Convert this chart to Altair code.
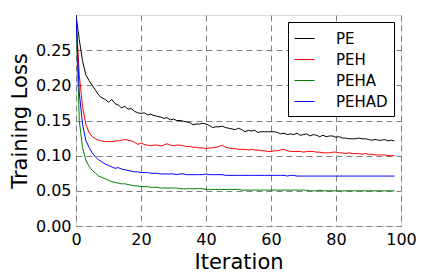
import altair as alt
import pandas as pd

iterations = list(range(99))

pe = [0.300, 0.265, 0.235, 0.215, 0.207, 0.200, 0.193, 0.186, 0.182, 0.180,
      0.176, 0.180, 0.174, 0.172, 0.168, 0.170, 0.166, 0.167, 0.163, 0.161,
      0.160, 0.161, 0.158, 0.159, 0.157, 0.156, 0.155, 0.153, 0.154, 0.151,
      0.152, 0.150, 0.150, 0.149, 0.148, 0.147, 0.144, 0.145, 0.145, 0.146,
      0.145, 0.143, 0.140, 0.141, 0.141, 0.142, 0.140, 0.139, 0.138, 0.137,
      0.139, 0.137, 0.134, 0.136, 0.135, 0.136, 0.133, 0.134, 0.134, 0.134,
      0.134, 0.134, 0.133, 0.131, 0.132, 0.130, 0.131, 0.130, 0.132, 0.129,
      0.130, 0.131, 0.128, 0.130, 0.129, 0.127, 0.129, 0.127, 0.128, 0.128,
      0.126, 0.127, 0.125, 0.125, 0.124, 0.124, 0.124, 0.125, 0.124, 0.124,
      0.123, 0.122, 0.123, 0.122, 0.122, 0.123, 0.121, 0.122, 0.121]

peh = [0.300, 0.215, 0.170, 0.145, 0.133, 0.127, 0.124, 0.122, 0.121, 0.120,
       0.120, 0.120, 0.121, 0.121, 0.122, 0.123, 0.122, 0.121, 0.119, 0.116,
       0.118, 0.116, 0.115, 0.114, 0.115, 0.115, 0.114, 0.115, 0.117, 0.115,
       0.114, 0.115, 0.115, 0.114, 0.113, 0.113, 0.112, 0.112, 0.111, 0.111,
       0.110, 0.111, 0.111, 0.112, 0.113, 0.115, 0.112, 0.111, 0.110, 0.110,
       0.109, 0.109, 0.109, 0.108, 0.109, 0.108, 0.108, 0.107, 0.107, 0.106,
       0.106, 0.107, 0.107, 0.108, 0.109, 0.107, 0.106, 0.106, 0.106, 0.106,
       0.105, 0.106, 0.106, 0.106, 0.105, 0.105, 0.104, 0.104, 0.104, 0.105,
       0.105, 0.104, 0.104, 0.103, 0.104, 0.103, 0.103, 0.103, 0.102, 0.103,
       0.102, 0.102, 0.101, 0.101, 0.101, 0.101, 0.100, 0.100, 0.100]

peha = [0.300, 0.150, 0.112, 0.094, 0.085, 0.079, 0.075, 0.071, 0.069, 0.067,
        0.065, 0.063, 0.062, 0.061, 0.060, 0.060, 0.059, 0.058, 0.057, 0.057,
        0.056, 0.056, 0.056, 0.055, 0.055, 0.055, 0.054, 0.054, 0.054, 0.054,
        0.054, 0.054, 0.053, 0.053, 0.053, 0.053, 0.053, 0.053, 0.053, 0.053,
        0.052, 0.052, 0.052, 0.052, 0.052, 0.052, 0.052, 0.052, 0.052, 0.052,
        0.052, 0.051, 0.051, 0.051, 0.051, 0.051, 0.051, 0.051, 0.051, 0.051,
        0.051, 0.051, 0.051, 0.051, 0.051, 0.051, 0.051, 0.051, 0.051, 0.051,
        0.051, 0.051, 0.050, 0.050, 0.050, 0.051, 0.050, 0.050, 0.050, 0.050,
        0.050, 0.050, 0.050, 0.050, 0.050, 0.050, 0.050, 0.050, 0.050, 0.050,
        0.050, 0.050, 0.050, 0.050, 0.050, 0.050, 0.050, 0.050, 0.050]

pehad = [0.300, 0.190, 0.145, 0.122, 0.112, 0.104, 0.098, 0.094, 0.091, 0.088,
         0.086, 0.084, 0.082, 0.083, 0.081, 0.080, 0.079, 0.078, 0.077, 0.077,
         0.076, 0.076, 0.076, 0.075, 0.075, 0.075, 0.074, 0.074, 0.074, 0.074,
         0.074, 0.073, 0.074, 0.074, 0.073, 0.073, 0.073, 0.073, 0.073, 0.073,
         0.074, 0.073, 0.073, 0.073, 0.073, 0.073, 0.072, 0.072, 0.072, 0.072,
         0.072, 0.072, 0.072, 0.072, 0.072, 0.072, 0.072, 0.072, 0.072, 0.072,
         0.072, 0.072, 0.072, 0.072, 0.072, 0.071, 0.072, 0.072, 0.071, 0.071,
         0.071, 0.071, 0.071, 0.071, 0.071, 0.071, 0.071, 0.071, 0.071, 0.071,
         0.071, 0.071, 0.071, 0.071, 0.071, 0.071, 0.071, 0.071, 0.071, 0.071,
         0.071, 0.071, 0.071, 0.071, 0.071, 0.071, 0.071, 0.071, 0.071]

series_names = ["PE", "PEH", "PEHA", "PEHAD"]
series_colors = ["#000000", "#ff0000", "#008000", "#0000ff"]
series_values = [pe, peh, peha, pehad]

x_ticks = [0, 20, 40, 60, 80, 100]
y_ticks = [0.00, 0.05, 0.10, 0.15, 0.20, 0.25]

rows = []
for name, vals in zip(series_names, series_values):
    for it, v in zip(iterations, vals):
        rows.append({"Iteration": it, "Loss": v, "Series": name})
df = pd.DataFrame(rows)

font = "DejaVu Sans"

chart = alt.Chart(df).mark_line(strokeWidth=1, clip=True).encode(
    x=alt.X("Iteration:Q",
            scale=alt.Scale(domain=[0, 100], nice=False, zero=False),
            axis=alt.Axis(values=x_ticks, title="Iteration", format="d",
                          grid=True, gridDash=[6, 4], gridColor="#808080",
                          gridWidth=1, domain=False, ticks=False,
                          labelFlush=False,
                          labelFont=font, labelFontSize=16, labelColor="#000000",
                          labelPadding=5, titleFont=font, titleFontSize=21,
                          titleFontWeight="normal", titleColor="#000000",
                          titlePadding=4)),
    y=alt.Y("Loss:Q",
            scale=alt.Scale(domain=[0, 0.30], nice=False),
            axis=alt.Axis(values=y_ticks, title="Training Loss", format=".2f",
                          grid=True, gridDash=[6, 4], gridColor="#808080",
                          gridWidth=1, domain=False, ticks=False,
                          labelFlush=False,
                          labelFont=font, labelFontSize=16, labelColor="#000000",
                          labelPadding=5, titleFont=font, titleFontSize=21,
                          titleFontWeight="normal", titleColor="#000000",
                          titlePadding=5)),
    color=alt.Color("Series:N",
                    scale=alt.Scale(domain=series_names, range=series_colors),
                    legend=alt.Legend(title=None, orient="none",
                                      legendX=212, legendY=7,
                                      symbolType="stroke", symbolSize=400,
                                      symbolStrokeWidth=1,
                                      labelFont=font, labelFontSize=15,
                                      labelColor="#000000", labelOffset=21,
                                      rowPadding=2, padding=6,
                                      strokeColor="#000000", fillColor="#ffffff",
                                      cornerRadius=0)),
    order=alt.Order("Iteration:Q"),
).properties(
    width=325,
    height=211,
    autosize=alt.AutoSizeParams(type="none"),
    padding={"left": 68, "top": 7, "right": 15, "bottom": 46},
).configure_view(
    stroke="#000000", strokeWidth=1
).configure(background="#ffffff")

chart.save("out.html", embed_options={"renderer": "svg", "actions": False})
